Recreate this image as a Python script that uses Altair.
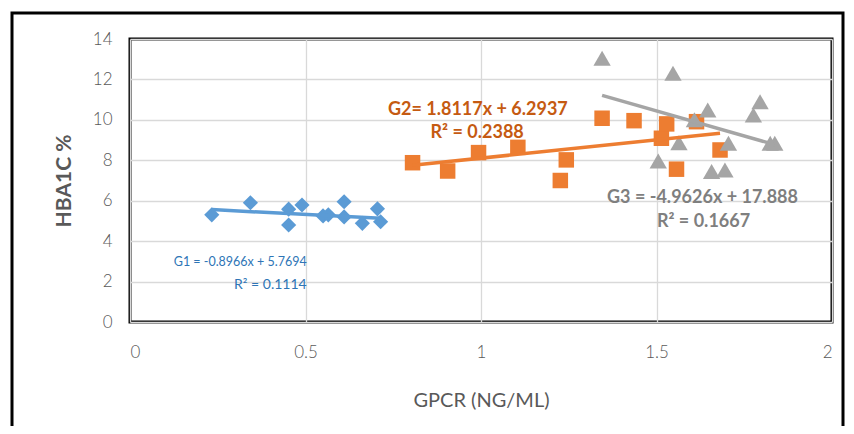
import altair as alt
import pandas as pd

# ---- data ----
g1_x = [0.233, 0.343, 0.452, 0.452, 0.490, 0.550, 0.565, 0.610, 0.610, 0.662, 0.705, 0.714]
g1_y = [5.30, 5.90, 4.80, 5.58, 5.79, 5.25, 5.30, 5.95, 5.20, 4.88, 5.60, 4.96]

g2_x = [0.805, 0.905, 0.993, 1.105, 1.226, 1.243, 1.345, 1.436, 1.514, 1.529, 1.557, 1.614, 1.681]
g2_y = [7.88, 7.47, 8.38, 8.64, 7.00, 8.02, 10.08, 9.96, 9.09, 9.80, 7.56, 9.91, 8.51]

g3_x = [1.345, 1.547, 1.795, 1.776, 1.646, 1.608, 1.564, 1.705, 1.824, 1.837, 1.505, 1.657, 1.695]
g3_y = [13.05, 12.30, 10.90, 10.24, 10.49, 10.00, 8.87, 8.84, 8.84, 8.84, 7.97, 7.44, 7.52]

# trendline equations (slope, intercept) as printed on the chart
g1_fit = (-0.8966, 5.7694)
g2_fit = (1.8117, 6.2937)
g3_fit = (-4.9626, 17.888)

labels_eq = ["G1 = -0.8966x + 5.7694", "G2= 1.8117x + 6.2937", "G3 = -4.9626x + 17.888"]
labels_r2 = ["R² = 0.1114", "R² = 0.2388", "R² = 0.1667"]
label_pos_eq = [(0.314, 2.97), (0.991, 10.49), (1.631, 6.14)]
label_pos_r2 = [(0.400, 1.83), (0.989, 9.35), (1.634, 4.95)]

BLUE, ORANGE, GRAY = "#5B9BD5", "#ED7D31", "#A5A5A5"
TXT = ["#2E75B6", "#C55A11", "#7F7F7F"]

x_scale = alt.Scale(domain=[0, 2], nice=False, zero=False)
y_scale = alt.Scale(domain=[0, 14], nice=False)

x_axis = alt.Axis(values=[0, 0.5, 1, 1.5, 2], labelExpr="datum.value == 0 ? '0' : format(datum.value, '')",
                  title="GPCR (NG/ML)", grid=True, domain=False, ticks=False,
                  labelPadding=22, titlePadding=30, labelFontSize=17, titleFontSize=20,
                  labelColor="#595959", titleColor="#595959", titleFontWeight="normal",
                  labelFont="Lato", titleFont="Lato", labelFontWeight=300)
y_axis = alt.Axis(values=list(range(0, 15, 2)), title="HBA1C %", grid=True, domain=False, ticks=False,
                  labelPadding=18, titlePadding=18, labelFontSize=17, titleFontSize=21,
                  labelColor="#595959", titleColor="#595959", titleFontWeight="bold",
                  labelFont="Lato", titleFont="Lato", labelFontWeight=300)


def pts(xs, ys, shape, color, size, with_axes=False):
    df = pd.DataFrame({"x": xs, "y": ys})
    if with_axes:
        xe = alt.X("x:Q", scale=x_scale, axis=x_axis)
        ye = alt.Y("y:Q", scale=y_scale, axis=y_axis)
    else:
        xe = alt.X("x:Q", scale=x_scale)
        ye = alt.Y("y:Q", scale=y_scale)
    return alt.Chart(df).mark_point(shape=shape, filled=True, opacity=1, size=size, color=color).encode(x=xe, y=ye)


def trend(xs, fit, color):
    lo, hi = min(xs), max(xs)
    df = pd.DataFrame({"x": [lo, hi], "y": [fit[0] * lo + fit[1], fit[0] * hi + fit[1]]})
    return alt.Chart(df).mark_line(color=color, strokeWidth=3.5).encode(
        x=alt.X("x:Q", scale=x_scale), y=alt.Y("y:Q", scale=y_scale))


def label(text, pos, color, size, weight, font="Lato"):
    df = pd.DataFrame({"x": [pos[0]], "y": [pos[1]], "t": [text]})
    return alt.Chart(df).mark_text(color=color, fontSize=size, fontWeight=weight, font=font,
                                   align="center", baseline="middle").encode(
        x=alt.X("x:Q", scale=x_scale), y=alt.Y("y:Q", scale=y_scale), text="t:N")


frame = alt.Chart(pd.DataFrame({"a": [0]})).mark_rect(filled=False, stroke="black", strokeWidth=3).encode(
    x=alt.value(-118), x2=alt.value(713), y=alt.value(-26), y2=alt.value(460))

layers = [
    pts(g1_x, g1_y, "diamond", BLUE, 230, with_axes=True),
    pts(g2_x, g2_y, "square", ORANGE, 240),
    pts(g3_x, g3_y, "triangle-up", GRAY, 300),
    trend(g1_x, g1_fit, BLUE),
    trend(g2_x, g2_fit, ORANGE),
    trend(g3_x, g3_fit, GRAY),
    label(labels_eq[0], label_pos_eq[0], TXT[0], 12.5, "normal"),
    label(labels_r2[0], label_pos_r2[0], TXT[0], 14, "normal"),
    label(labels_eq[1], label_pos_eq[1], TXT[1], 18, "bold"),
    label(labels_r2[1], label_pos_r2[1], TXT[1], 18, "bold"),
    label(labels_eq[2], label_pos_eq[2], TXT[2], 18, "bold"),
    label(labels_r2[2], label_pos_r2[2], TXT[2], 18, "bold"),
    frame,
]

chart = alt.layer(*layers).properties(
    width=702, height=283,
    autosize=alt.AutoSizeParams(type="none"),
    padding={"left": 122, "top": 31, "right": 14, "bottom": 104},
    background="white",
).configure_view(stroke="black", strokeWidth=3).configure_axis(gridColor="#D9D9D9", gridWidth=1.3)

chart.save("out.html", embed_options={"renderer": "svg", "actions": False})
